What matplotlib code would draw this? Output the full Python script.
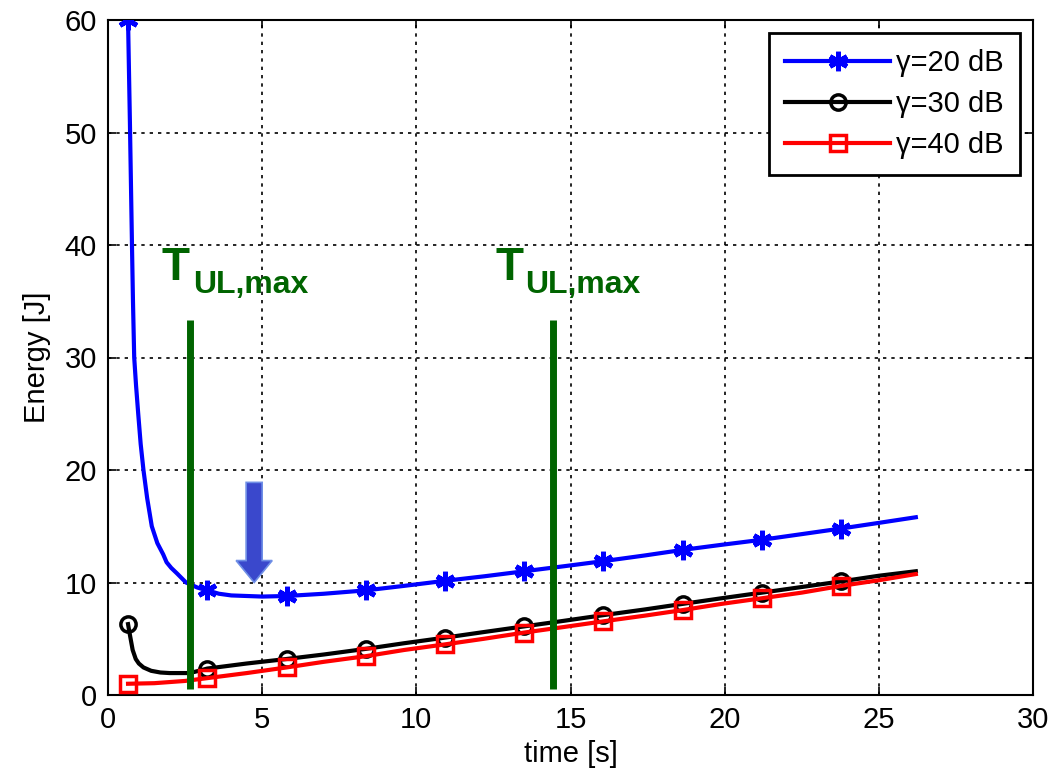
import numpy as np
import matplotlib
matplotlib.use("Agg")
import matplotlib.pyplot as plt

plt.rcParams['font.family'] = ['Liberation Sans', 'DejaVu Sans']

# ---- data ----
t_mark = [0.65, 3.22, 5.79, 8.36, 10.93, 13.5, 16.07, 18.64, 21.21, 23.78]

t_blue = [0.65, 0.71, 0.78, 0.81, 0.85, 0.91, 0.98, 1.06, 1.15, 1.27, 1.42, 1.6, 1.79,
          1.9, 2.05, 2.24, 2.53, 2.9, 3.22, 3.6, 4.0, 4.5, 5.0, 5.79, 7.0, 8.36, 9.6,
          10.93, 12.2, 13.5, 14.8, 16.07, 17.4, 18.64, 19.9, 21.21, 22.5, 23.78,
          25.0, 26.2]
e_blue = [60, 51, 39.6, 35, 30, 27.5, 25, 22.3, 20, 17.5, 15, 13.5, 12.5,
          11.8, 11.3, 10.8, 10.0, 9.55, 9.3, 9.0, 8.85, 8.8, 8.75, 8.8, 9.0, 9.3, 9.7,
          10.15, 10.55, 11.0, 11.45, 11.9, 12.4, 12.9, 13.35, 13.8, 14.3, 14.8,
          15.3, 15.8]

t_black = [0.65, 0.7, 0.8, 0.9, 1.0, 1.15, 1.4, 1.7, 2.0, 2.55, 2.8, 3.22, 4.5,
           5.79, 7.0, 8.36, 9.6, 10.93, 12.2, 13.5, 14.8, 16.07, 17.4, 18.64,
           19.9, 21.21, 22.5, 23.78, 25.0, 26.2]
e_black = [6.3, 5.5, 4.0, 3.2, 2.8, 2.45, 2.15, 2.0, 1.95, 1.95, 2.05, 2.35, 2.8,
           3.2, 3.6, 4.1, 4.6, 5.1, 5.6, 6.1, 6.6, 7.1, 7.6, 8.1,
           8.6, 9.1, 9.6, 10.1, 10.6, 11.0]

t_red = [0.65, 1.5, 2.5, 3.22, 4.5, 5.79, 7.0, 8.36, 9.6, 10.93, 12.2, 13.5, 14.8,
         16.07, 17.4, 18.64, 19.9, 21.21, 22.5, 23.78, 25.0, 26.2]
e_red = [1.0, 1.05, 1.25, 1.5, 1.95, 2.45, 2.95, 3.45, 4.0, 4.5, 5.0, 5.55, 6.05,
         6.55, 7.05, 7.55, 8.1, 8.6, 9.1, 9.7, 10.2, 10.75]

labels = ['\u03b3=20 dB', '\u03b3=30 dB', '\u03b3=40 dB']

t_ulmax = [2.66, 14.43]
ulmax_range = [0.5, 33.3]
label_T_x = [1.75, 12.58]
label_sub_x = [2.76, 13.53]
arrow_x = 4.74
arrow_y = [18.9, 10.0]

# ---- figure ----
fig = plt.figure(figsize=(10.5, 7.75), dpi=100)
ax = fig.add_axes([108/1050, 80/775, 925/1050, 675/775])

def mk(t):
    return [i for i, v in enumerate(t) if any(abs(v - m) < 1e-9 for m in t_mark)]

ax.plot(t_blue, e_blue, color='#0000ff', lw=3, marker=(6, 2, 0), ms=14, mew=3.5,
        markevery=mk(t_blue), label=labels[0], zorder=4)
ax.plot(t_black, e_black, color='black', lw=3, marker='o', ms=11, mew=2.5,
        mfc='none', markevery=mk(t_black), label=labels[1], zorder=4)
ax.plot(t_red, e_red, color='#ff0000', lw=3, marker='s', ms=12, mew=2.5,
        mfc='none', markevery=mk(t_red), label=labels[2], zorder=4)

for tx, lx, sx in zip(t_ulmax, label_T_x, label_sub_x):
    ax.plot([tx, tx], ulmax_range, color='#006400', lw=5, solid_capstyle='butt', zorder=5)
    ax.text(lx, 36.9, 'T', color='#006400', fontsize=33, fontweight='bold',
            ha='left', va='baseline', zorder=6)
    ax.text(sx, 35.7, 'UL,max', color='#006400', fontsize=23, fontweight='bold',
            ha='left', va='baseline', zorder=6)

ax.arrow(arrow_x, arrow_y[0], 0, arrow_y[1] - arrow_y[0], width=0.52, head_width=1.17,
         head_length=1.95, length_includes_head=True, facecolor='#3a48cc',
         edgecolor='#6f8fe6', lw=1.2, zorder=6)

ax.set_xlim(0, 30)
ax.set_ylim(0, 60)
ax.set_xticks(range(0, 31, 5))
ax.set_yticks(range(0, 61, 10))
ax.grid(True, color='black', linestyle=(0, (2, 3)), lw=1.2)
ax.tick_params(direction='in', length=6, width=1.2, top=True, right=True,
               labelsize=21, pad=8)
for s in ax.spines.values():
    s.set_linewidth(1.5)
ax.set_xlabel('time [s]', fontsize=21, labelpad=4)
ax.set_ylabel('Energy [J]', fontsize=21, labelpad=10)

leg = ax.legend(loc='upper right', fontsize=21, frameon=True, fancybox=False,
                edgecolor='black', framealpha=1, borderpad=0.55, handlelength=3.6,
                handletextpad=0.2, labelspacing=0.45, borderaxespad=0.45)
leg.get_frame().set_linewidth(2)

fig.savefig('out.png', dpi=100)
